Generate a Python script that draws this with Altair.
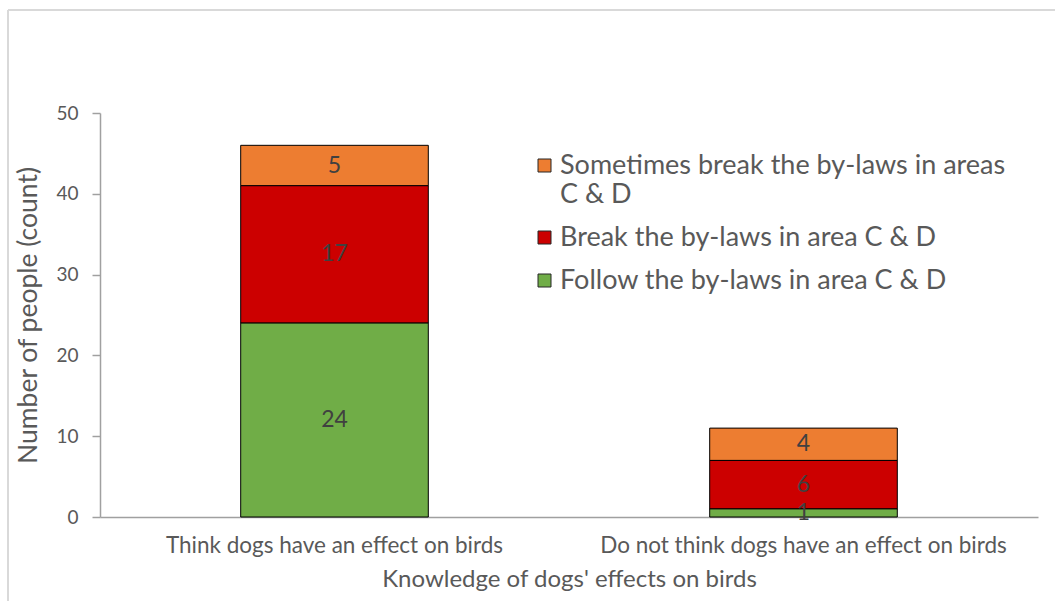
import altair as alt
import pandas as pd

# Survey responses, split by knowledge of dogs' effects on birds
groups = ["Think dogs have an effect on birds", "Do not think dogs have an effect on birds"]
behaviours = [
    "Sometimes break the by-laws in areas C & D",
    "Break the by-laws in area C & D",
    "Follow the by-laws in area C & D",
]
colors = ["#ED7D31", "#CC0000", "#70AD47"]

follow = [24, 1]
break_rules = [17, 6]
sometimes = [5, 4]

# stacking rank: follow at the bottom, sometimes on top
rank = {behaviours[2]: 0, behaviours[1]: 1, behaviours[0]: 2}

rows = []
for i, g in enumerate(groups):
    for b, v in zip(behaviours, [sometimes[i], break_rules[i], follow[i]]):
        rows.append({"group": g, "behaviour": b, "count": v, "rank": rank[b]})
df = pd.DataFrame(rows)

FONT = "Lato"
TEXT = "#595959"
AXIS = "#a0a0a0"

base = (
    alt.Chart(df)
    .transform_stack(
        stack="count",
        groupby=["group"],
        as_=["y0", "y1"],
        sort=[alt.SortField("rank", order="ascending")],
    )
    .transform_calculate(mid="(datum.y0 + datum.y1) / 2")
)

x_enc = alt.X(
    "group:N",
    sort=groups,
    scale=alt.Scale(paddingInner=0.6, paddingOuter=0.3),
    axis=alt.Axis(
        title="Knowledge of dogs' effects on birds",
        labelAngle=0,
        ticks=False,
        labelPadding=17,
        titlePadding=11,
        labelFontSize=22.5,
        titleFontSize=24,
        labelLimit=500,
    ),
)

bars = base.mark_bar(stroke="black", strokeWidth=1).encode(
    x=x_enc,
    y=alt.Y(
        "y0:Q",
        scale=alt.Scale(domain=[0, 50]),
        axis=alt.Axis(
            title="Number of people (count)",
            values=[0, 10, 20, 30, 40, 50],
            grid=False,
            tickSize=8,
            labelPadding=14,
            titlePadding=13,
            labelFontSize=19,
            titleFontSize=26.5,
        ),
    ),
    y2="y1:Q",
    color=alt.Color(
        "behaviour:N",
        scale=alt.Scale(domain=behaviours, range=colors),
        legend=alt.Legend(
            title=None,
            orient="none",
            legendX=431,
            legendY=39,
            symbolType="square",
            symbolSize=169,
            symbolStrokeColor="#262626",
            symbolStrokeWidth=1,
            labelFontSize=27,
            labelOffset=2,
            labelLimit=700,
            rowPadding=15,
            labelExpr=(
                "datum.label == 'Sometimes break the by-laws in areas C & D' ? "
                "['Sometimes break the by-laws in areas', 'C & D'] : datum.label"
            ),
        ),
    ),
)

labels = base.mark_text(fontSize=23, color="#404040", font=FONT).encode(
    x=alt.X("group:N", sort=groups),
    y=alt.Y("mid:Q"),
    text=alt.Text("count:Q"),
)

# light chart frame along the left and top edges
frame_left = alt.Chart(df).mark_rule(color="#d9d9d9", strokeWidth=2).encode(
    x=alt.value(-92), y=alt.value(-103), y2=alt.value(500)
)
frame_top = alt.Chart(df).mark_rule(color="#d9d9d9", strokeWidth=2).encode(
    x=alt.value(-92), x2=alt.value(1000), y=alt.value(-103)
)

chart = (
    alt.layer(bars, labels, frame_left, frame_top)
    .properties(
        width=938,
        height=404,
        background="white",
        autosize=alt.AutoSizeParams(type="none"),
        padding={"left": 100, "top": 113, "right": 17, "bottom": 84},
    )
    .configure_view(stroke=None)
    .configure_axis(
        domainColor=AXIS,
        tickColor=AXIS,
        domainWidth=1.5,
        tickWidth=1.5,
        labelColor=TEXT,
        titleColor=TEXT,
        labelFont=FONT,
        titleFont=FONT,
        titleFontWeight="normal",
    )
    .configure_legend(labelColor=TEXT, labelFont=FONT)
)

chart.save("out.html", embed_options={"renderer": "svg", "actions": False})
